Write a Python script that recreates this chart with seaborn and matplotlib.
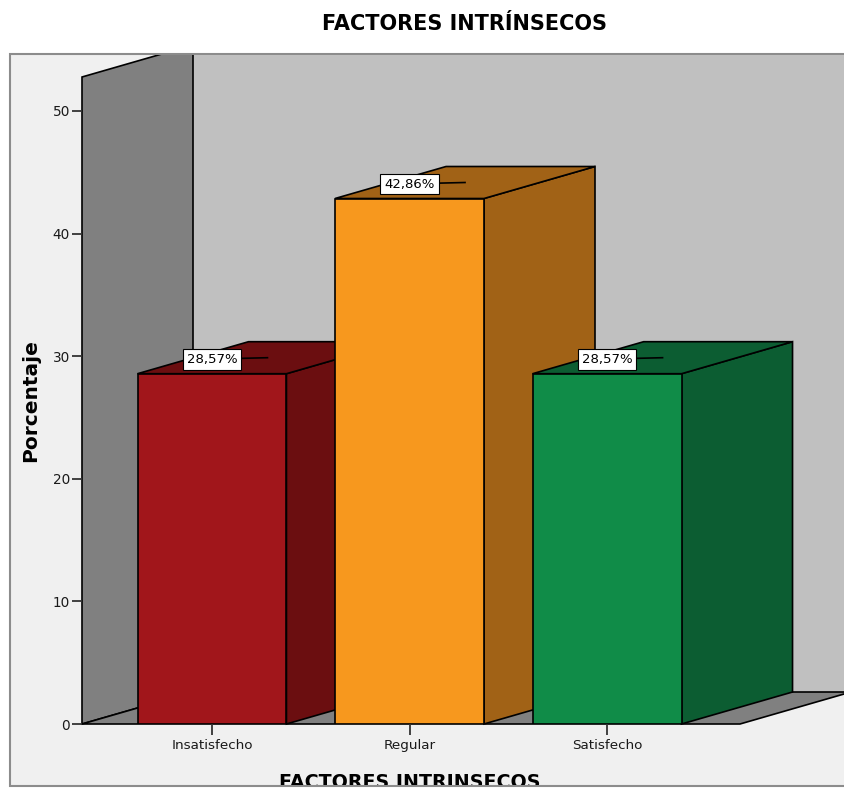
import matplotlib
matplotlib.use("Agg")
import matplotlib.pyplot as plt
from matplotlib.patches import Polygon, Rectangle
import seaborn as sns

# Datos del gráfico
categorias = ["Insatisfecho", "Regular", "Satisfecho"]
porcentajes = [28.57, 42.86, 28.57]
etiquetas = ["28,57%", "42,86%", "28,57%"]
marcas_y = [0, 10, 20, 30, 40, 50]

titulo = "FACTORES INTRÍNSECOS"
titulo_x = "FACTORES INTRINSECOS"
titulo_y = "Porcentaje"

# Colores: cara frontal y caras en sombra (lateral y superior)
colores_frente = ["#A1161B", "#F7981E", "#108C48"]
colores_sombra = ["#6B0E10", "#A16216", "#0C5D32"]

plt.rcParams["font.family"] = ["DejaVu Sans"]

W, H = 845, 789
fig = plt.figure(figsize=(W / 100, H / 100), dpi=100, facecolor="white")


def fx(px):
    return px / W


def fy(py):
    return 1 - py / H


ax = fig.add_axes([fx(82), fy(724), fx(740) - fx(82), fy(77) - fy(724)])
ax.set_facecolor("none")

sns.barplot(x=categorias, y=porcentajes, hue=categorias, palette=colores_frente,
            saturation=1, width=0.754, edgecolor="black", linewidth=1.2,
            legend=False, errorbar=None, ax=ax)
barras = sorted(list(ax.patches), key=lambda p: p.get_x())

x0, x1 = -0.658, 2.673
y0, y1 = 0, 52.77
ax.set_xlim(x0, x1)
ax.set_ylim(y0, y1)

# profundidad de la proyección 3D en unidades de datos
ux = (x1 - x0) / (740 - 82)
uy = (y1 - y0) / (724 - 77)
dx = 111 * ux
dy = 32 * uy

# marco exterior del gráfico
marco = Rectangle((fx(10), fy(786)), fx(900) - fx(10), fy(54) - fy(786),
                  transform=fig.transFigure, facecolor="#F0F0F0",
                  edgecolor="#8C8C8C", lw=1.5, zorder=0, clip_on=False)
ax.add_patch(marco)
recorte = Rectangle((fx(11), fy(785)), fx(900) - fx(11), fy(55) - fy(785),
                    transform=fig.transFigure)

# pared del fondo
fondo = Rectangle((x0 + dx, dy), (x1 - x0) + 2, 80, facecolor="#C0C0C0",
                  edgecolor="none", zorder=0.5)
ax.add_patch(fondo)
fondo.set_clip_path(recorte)

# pared izquierda
pared = Polygon([(x0, y0), (x0, y1), (x0 + dx, y1 + dy), (x0 + dx, dy)],
                closed=True, facecolor="#808080", edgecolor="black", lw=1.2,
                zorder=0.6)
ax.add_patch(pared)
pared.set_clip_path(recorte)

# suelo
suelo = Polygon([(x0, y0), (x1, y0), (x1 + dx, dy), (x0 + dx, dy)],
                closed=True, facecolor="#808080", edgecolor="black", lw=1.2,
                zorder=0.7)
ax.add_patch(suelo)
suelo.set_clip_path(recorte)

# caras lateral y superior de cada barra
for i, b in enumerate(barras):
    xl = b.get_x()
    xr = xl + b.get_width()
    h = b.get_height()
    b.set_zorder(3 + 2 * i)
    lado = Polygon([(xr, 0), (xr + dx, dy), (xr + dx, h + dy), (xr, h)],
                   closed=True, facecolor=colores_sombra[i], edgecolor="black",
                   lw=1.2, zorder=2 + 2 * i, clip_on=False)
    tapa = Polygon([(xl, h), (xr, h), (xr + dx, h + dy), (xl + dx, h + dy)],
                   closed=True, facecolor=colores_sombra[i], edgecolor="black",
                   lw=1.2, zorder=2 + 2 * i, clip_on=False)
    ax.add_patch(lado)
    ax.add_patch(tapa)

    xc = xl + b.get_width() / 2
    ax.text(xc, h + 1.18, etiquetas[i], ha="center", va="center",
            fontsize=9.5, color="black", zorder=20,
            bbox=dict(boxstyle="square,pad=0.3", fc="white", ec="black", lw=0.8))
    ax.plot([xc + 0.14, xc + dx / 2], [h + 1.25, h + dy / 2], color="black",
            lw=1.2, zorder=19, clip_on=False)

ax.set_yticks(marcas_y)
ax.set_xticks(range(len(categorias)))
ax.set_xticklabels(categorias)
ax.set_xlabel("")
ax.set_ylabel("")
ax.tick_params(axis="y", left=True, direction="out", length=7.2, width=1.3,
               color="#333333", pad=1.5, labelsize=9.8, labelcolor="#1a1a1a")
ax.tick_params(axis="x", bottom=True, direction="out", length=8, width=1.3,
               color="#333333", pad=3, labelsize=9.7, labelcolor="#1a1a1a")
for s in ax.spines.values():
    s.set_visible(False)

fig.text(fx(465), fy(24), titulo, ha="center", va="center",
         fontsize=15, fontweight="bold", color="black")
fig.text(fx(31), fy(401), titulo_y, ha="center", va="center", rotation=90,
         fontsize=14.5, fontweight="bold", color="black")
tx = fig.text(fx(410), fy(788), titulo_x, ha="center", va="baseline",
              fontsize=13.7, fontweight="bold", color="black")
tx.set_clip_on(True)
tx.set_clip_path(recorte)

fig.savefig("out.png", dpi=100, facecolor="white")
